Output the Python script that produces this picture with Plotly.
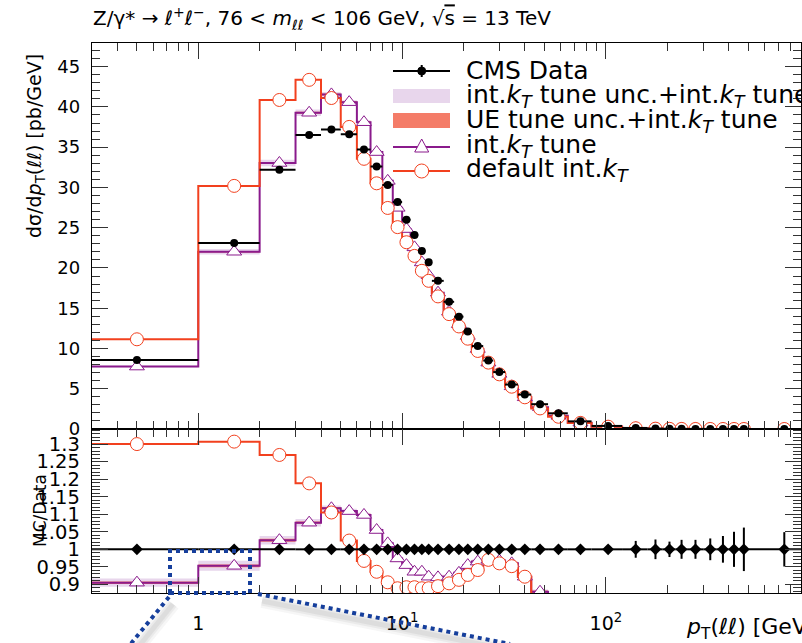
import numpy as np
import plotly.graph_objects as go

# ---------------------------------------------------------------- data
bin_edges = [0, 1, 2, 3, 4, 5, 6, 7, 8, 9, 10, 11, 12, 13, 14, 16, 18, 20, 22, 25,
             28, 32, 37, 43, 52, 65, 85, 120, 160, 190, 220, 250, 300, 350, 400,
             450, 500, 1000]

# measured cross section dsigma/dpT [pb/GeV]
cms_data = [8.57, 23.1, 32.2, 36.5, 37.2, 36.6, 34.7, 32.6, 30.3, 28.2,
            26.0, 24.1, 22.1, 20.7, 18.4, 15.8, 13.95, 12.1, 10.3, 8.5,
            7.07, 5.52, 4.27, 3.08, 1.95, 0.95, 0.38, 0.13, 0.058, 0.031,
            0.018, 0.0095, 0.0048, 0.0026, 0.0015, 0.0009, 0.00025]

# relative uncertainty of the measurement
data_rel_unc = [0.006, 0.005, 0.005, 0.005, 0.005, 0.005, 0.005, 0.005, 0.005, 0.005,
                0.005, 0.005, 0.005, 0.005, 0.005, 0.005, 0.005, 0.005, 0.005, 0.005,
                0.005, 0.005, 0.006, 0.006, 0.007, 0.008, 0.010, 0.024, 0.028, 0.022,
                0.027, 0.027, 0.031, 0.038, 0.050, 0.062, 0.049]

# prediction / data
ratio_default = [1.300, 1.307, 1.269, 1.188, 1.105, 1.025, 0.967, 0.936, 0.906, 0.889,
                 0.892, 0.892, 0.889, 0.889, 0.895, 0.903, 0.913, 0.927, 0.941, 0.970,
                 0.960, 0.952, 0.922, 0.830, 0.780, 0.800, 0.760, 0.740, 0.720, 0.700,
                 0.700, 0.680, 0.660, 0.650, 0.640, 0.620, 0.600]

ratio_tune = [0.905, 0.953, 1.026, 1.076, 1.117, 1.109, 1.098, 1.055, 1.017, 0.974,
              0.955, 0.936, 0.936, 0.922, 0.920, 0.922, 0.933, 0.955, 0.965, 0.970,
              0.968, 0.960, 0.922, 0.879, 0.840, 0.830, 0.800, 0.780, 0.760, 0.750,
              0.740, 0.720, 0.710, 0.700, 0.690, 0.680, 0.660]

# relative half widths of the uncertainty bands on the int.kT tune
tune_unc = [0.013, 0.015, 0.012, 0.010, 0.007, 0.006, 0.006, 0.006, 0.006, 0.006,
            0.006, 0.006, 0.006, 0.006, 0.006, 0.006, 0.006, 0.006, 0.006, 0.006,
            0.006, 0.006, 0.006, 0.007, 0.008, 0.008, 0.009, 0.010, 0.010, 0.010,
            0.010, 0.010, 0.010, 0.010, 0.010, 0.010, 0.010]
ue_unc = [0.004, 0.004, 0.004, 0.003, 0.003, 0.003, 0.003, 0.003, 0.003, 0.003,
          0.003, 0.003, 0.003, 0.003, 0.003, 0.003, 0.003, 0.003, 0.003, 0.003,
          0.003, 0.003, 0.003, 0.004, 0.004, 0.004, 0.005, 0.005, 0.005, 0.005,
          0.005, 0.005, 0.005, 0.005, 0.005, 0.005, 0.005]

x_tick_vals = [1, 10, 100, 1000]
x_tick_text = ["1", "10<sup>1</sup>", "10<sup>2</sup>", "10<sup>3</sup>"]
ratio_tick_vals = [0.9, 0.95, 1.0, 1.05, 1.1, 1.15, 1.2, 1.25, 1.3]
ratio_tick_text = ["0.9", "0.95", "1", "1.05", "1.1", "1.15", "1.2", "1.25", "1.3"]

# ---------------------------------------------------------------- styles
W, H = 802, 643
FONT = "DejaVu Sans, Verdana, sans-serif"
RED = "#f2401e"
PURPLE = "#8a1a8c"
BAND_PURPLE = "#e8d6ec"
BAND_SALMON = "#f47c68"
ZOOM_BLUE = "#163f9c"

edges = np.array(bin_edges, dtype=float)
lo = np.maximum(edges[:-1], 0.1)          # zero edge is off a log axis
hi = edges[1:]
centers = 0.5 * (edges[:-1] + edges[1:])

data = np.array(cms_data)
d_unc = np.array(data_rel_unc)
r_def = np.array(ratio_default)
r_tune = np.array(ratio_tune)
u_tune = np.array(tune_unc)
u_ue = np.array(ue_unc)

pred_def = data * r_def
pred_tune = data * r_tune


def step_xy(vals):
    xs, ys = [], []
    for a, b, v in zip(lo, hi, vals):
        xs += [a, b]
        ys += [v, v]
    return xs, ys


def band_xy(upper, lower):
    xu, yu = step_xy(upper)
    xl, yl = step_xy(lower)
    return xu + xl[::-1], yu + yl[::-1]


fig = go.Figure()


def add_panel(xa, ya, tune_vals, def_vals, data_y, data_err):
    bx, by = band_xy(tune_vals * (1 + u_tune), tune_vals * (1 - u_tune))
    fig.add_trace(go.Scatter(x=bx, y=by, fill="toself", fillcolor=BAND_PURPLE,
                             line=dict(width=0), mode="lines", hoverinfo="skip",
                             showlegend=False, xaxis=xa, yaxis=ya))
    bx, by = band_xy(tune_vals * (1 + u_ue), tune_vals * (1 - u_ue))
    fig.add_trace(go.Scatter(x=bx, y=by, fill="toself", fillcolor=BAND_SALMON,
                             line=dict(width=0), mode="lines", hoverinfo="skip",
                             showlegend=False, xaxis=xa, yaxis=ya))
    sx, sy = step_xy(tune_vals)
    fig.add_trace(go.Scatter(x=sx, y=sy, mode="lines",
                             line=dict(color=PURPLE, width=2),
                             showlegend=False, xaxis=xa, yaxis=ya))
    sx, sy = step_xy(def_vals)
    fig.add_trace(go.Scatter(x=sx, y=sy, mode="lines",
                             line=dict(color=RED, width=2),
                             showlegend=False, xaxis=xa, yaxis=ya))
    fig.add_trace(go.Scatter(x=centers, y=tune_vals, mode="markers",
                             marker=dict(symbol="triangle-up", size=13, color="white",
                                         line=dict(color=PURPLE, width=1)),
                             showlegend=False, xaxis=xa, yaxis=ya))
    fig.add_trace(go.Scatter(x=centers, y=def_vals, mode="markers",
                             marker=dict(symbol="circle", size=13, color="white",
                                         line=dict(color=RED, width=1)),
                             showlegend=False, xaxis=xa, yaxis=ya))
    fig.add_trace(go.Scatter(x=centers, y=data_y, mode="markers",
                             marker=dict(symbol="circle" if ya == "y" else "diamond",
                                         size=8 if ya == "y" else 9, color="black"),
                             error_x=dict(type="data", symmetric=False,
                                          array=hi - centers, arrayminus=centers - lo,
                                          color="black", thickness=2, width=0),
                             error_y=dict(type="data", array=data_err,
                                          color="black", thickness=2, width=0),
                             showlegend=False, xaxis=xa, yaxis=ya))


add_panel("x", "y", pred_tune, pred_def, data, data * d_unc)
add_panel("x2", "y2", r_tune, r_def, np.ones_like(data), d_unc)

# ---------------------------------------------------------------- axes
minor_x = [k * d for d in (0.1, 1, 10, 100) for k in range(2, 10)]
x_dom = [91.7 / W, 801 / W]
x_rng = [np.log10(0.3), 2.957]
top_dom = [1 - 429 / H, 1 - 43.3 / H]
bot_dom = [1 - 593 / H, 1 - 429 / H]

axis_common = dict(showline=True, linecolor="black", linewidth=1, mirror="ticks",
                   ticks="inside", tickcolor="#333", tickwidth=1, showgrid=False,
                   zeroline=False, automargin=False,
                   tickfont=dict(family=FONT, size=18, color="black"))

fig.update_layout(
    width=W, height=H, autosize=False,
    margin=dict(l=0, r=0, t=0, b=0, pad=0, autoexpand=False),
    paper_bgcolor="white", plot_bgcolor="white",
    showlegend=False,
    font=dict(family=FONT, color="black"),
    xaxis=dict(axis_common, type="log", range=x_rng, domain=x_dom, anchor="y",
               tickvals=x_tick_vals, showticklabels=False, ticklen=16,
               minor=dict(tickvals=minor_x, ticks="inside", ticklen=8,
                          tickcolor="#333", showgrid=False)),
    yaxis=dict(axis_common, range=[0, 47.9], domain=top_dom, anchor="x",
               dtick=5, tick0=0, ticklen=16, ticklabelstandoff=7,
               minor=dict(dtick=1, ticks="inside", ticklen=8, tickcolor="#333",
                          showgrid=False)),
    xaxis2=dict(axis_common, type="log", range=x_rng, domain=x_dom, anchor="y2",
                matches="x", tickvals=x_tick_vals, ticktext=x_tick_text, ticklen=16,
                ticklabelstandoff=13,
                tickfont=dict(family=FONT, size=19, color="black"),
                minor=dict(tickvals=minor_x, ticks="inside", ticklen=8,
                           tickcolor="#333", showgrid=False)),
    yaxis2=dict(axis_common, range=[0.8755, 1.343], domain=bot_dom, anchor="x2",
                tickvals=ratio_tick_vals, ticktext=ratio_tick_text, ticklen=16,
                ticklabelstandoff=7,
                tickfont=dict(family=FONT, size=19.5, color="black"),
                minor=dict(dtick=0.01, tick0=0.9, ticks="inside", ticklen=8,
                           tickcolor="#333", showgrid=False)),
)


def px(x):
    return x / W


def py(y):
    return 1 - y / H


annotations = [
    dict(x=px(91), y=py(18), xanchor="left", yanchor="middle",
         text="Z/γ* → <i>ℓ</i><sup>+</sup><i>ℓ</i><sup>−</sup>, 76 &lt; <i>m</i><sub><i>ℓℓ</i></sub>"
              " &lt; 106 GeV, √<span style='text-decoration:overline'>s</span> = 13 TeV",
         font=dict(size=20)),
    dict(x=px(35), y=py(146), xanchor="center", yanchor="middle", textangle=-90,
         text="dσ/d<i>p</i><sub>T</sub>(<i>ℓℓ</i>) [pb/GeV]", font=dict(size=19)),
    dict(x=px(40), y=py(511), xanchor="center", yanchor="middle", textangle=-90,
         text="MC/Data", font=dict(size=17)),
    dict(x=px(818), y=py(628), xanchor="right", yanchor="middle",
         text="<i>p</i><sub>T</sub>(<i>ℓℓ</i>) [GeV]", font=dict(size=22)),
]

# legend entries
legend_rows = [
    (71, "CMS Data"),
    (96, "int.<i>k</i><sub><i>T</i></sub> tune unc.+int.<i>k</i><sub><i>T</i></sub> tune"),
    (121, "UE tune unc.+int.<i>k</i><sub><i>T</i></sub> tune"),
    (146, "int.<i>k</i><sub><i>T</i></sub> tune"),
    (170, "default int.<i>k</i><sub><i>T</i></sub>"),
]
for yy, txt in legend_rows:
    annotations.append(dict(x=px(464), y=py(yy), xanchor="left", yanchor="middle",
                            text=txt, font=dict(size=25), showarrow=False))
for a in annotations:
    a.setdefault("showarrow", False)
    a["xref"] = "paper"
    a["yref"] = "paper"
fig.update_layout(annotations=annotations)

shapes = []
P = dict(xref="paper", yref="paper")
lx0, lx1, lxc = 393, 450, 421.7
# CMS Data key
shapes.append(dict(P, type="line", x0=px(lx0), x1=px(lx1), y0=py(71), y1=py(71),
                   line=dict(color="black", width=2)))
shapes.append(dict(P, type="line", x0=px(lxc), x1=px(lxc), y0=py(65), y1=py(77),
                   line=dict(color="black", width=2)))
shapes.append(dict(P, type="circle", x0=px(lxc - 4), x1=px(lxc + 4), y0=py(75), y1=py(67),
                   fillcolor="black", line=dict(color="black", width=1)))
# band keys
shapes.append(dict(P, type="rect", x0=px(lx0), x1=px(lx1), y0=py(103), y1=py(89),
                   fillcolor=BAND_PURPLE, line=dict(width=0)))
shapes.append(dict(P, type="rect", x0=px(lx0), x1=px(lx1), y0=py(128), y1=py(113),
                   fillcolor=BAND_SALMON, line=dict(width=0)))
# int.kT tune key
shapes.append(dict(P, type="line", x0=px(lx0), x1=px(lx1), y0=py(147), y1=py(147),
                   line=dict(color=PURPLE, width=2)))
shapes.append(dict(P, type="path",
                   path=f"M {px(lxc)},{py(139)} L {px(lxc - 7)},{py(152)} "
                        f"L {px(lxc + 7)},{py(152)} Z",
                   fillcolor="white", line=dict(color=PURPLE, width=1)))
# default int.kT key
shapes.append(dict(P, type="line", x0=px(lx0), x1=px(lx1), y0=py(171), y1=py(171),
                   line=dict(color=RED, width=2)))
shapes.append(dict(P, type="circle", x0=px(lxc - 7), x1=px(lxc + 7), y0=py(178), y1=py(164),
                   fillcolor="white", line=dict(color=RED, width=1)))

# zoom call-out: soft shadows, then the dotted frame and guide lines
for w, a in ((14, 0.05), (9, 0.07), (5, 0.08)):
    shadow = dict(color=f"rgba(80,80,80,{a})", width=w)
    shapes.append(dict(P, type="line", x0=px(262), y0=py(601), x1=px(515), y1=py(651), line=shadow))
    shapes.append(dict(P, type="line", x0=px(173), y0=py(604), x1=px(135), y1=py(651), line=shadow))
dots = dict(color=ZOOM_BLUE, width=4, dash="dot")
shapes.append(dict(P, type="rect", x0=px(170), x1=px(250), y0=py(593), y1=py(551),
                   line=dots))
shapes.append(dict(P, type="line", x0=px(169), y0=py(597), x1=px(129), y1=py(646), line=dots))
shapes.append(dict(P, type="line", x0=px(258), y0=py(594), x1=px(510), y1=py(644), line=dots))
fig.update_layout(shapes=shapes)

fig.write_html("out.html")
